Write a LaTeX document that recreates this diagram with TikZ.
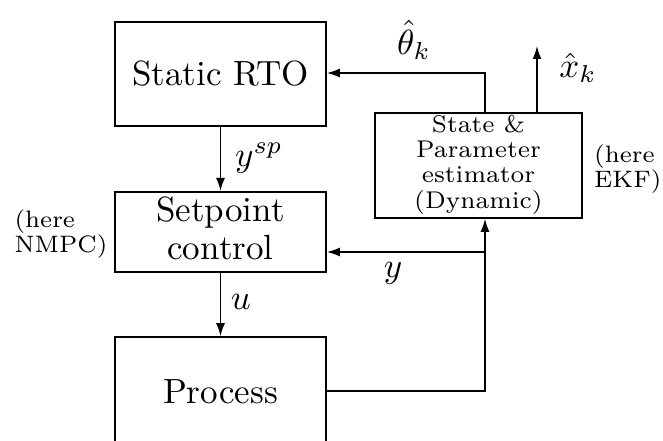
\documentclass[tikz,border=0pt]{standalone}
\usepackage{graphicx}
\usetikzlibrary{arrows.meta}
\newcommand{\Sc}[1]{\scalebox{3.5}{#1}}
\newcommand{\Smallstack}[1]{\scalebox{3.45}{\fontsize{7}{7.2}\selectfont\begin{tabular}{@{}c@{}}#1\end{tabular}}}
\newcommand{\Sidenote}[1]{\scalebox{3.4}{\fontsize{7}{7.2}\selectfont\begin{tabular}{@{}l@{}}#1\end{tabular}}}
\tikzset{
  blk/.style={draw, line width=1.6pt, inner sep=0pt, align=center},
  conn/.style={line width=1.6pt},
  arr/.style={conn, -{Latex[length=13pt,width=9pt]}},
  lbl/.style={inner sep=0pt}
}
\begin{document}
\begin{tikzpicture}[x=1pt,y=-1pt]
\clip (0,0) rectangle (663,441);
\fill[white] (0,0) rectangle (663,441);
% blocks
\node[blk, minimum width=211pt, minimum height=104pt] (rto) at (220.5,74) {\Sc{Static RTO}};
\node[blk, minimum width=211pt, minimum height=80pt] (sp) at (220.5,232) {\Sc{\begin{tabular}{@{}c@{}}Setpoint\\[-1pt]control\end{tabular}}};
\node[blk, minimum width=211pt, minimum height=110pt] (proc) at (220.5,392) {\Sc{Process}};
\node[blk, minimum width=207pt, minimum height=105pt] (est) at (478.5,165.5) {\Smallstack{State \&\\Parameter\\estimator\\(Dynamic)}};
% side notes
\node[lbl] (nmpc) at (61,235) {\Sidenote{(here\\NMPC)}};
\node[lbl, anchor=west] (ekf) at (594,170) {\Sidenote{(here\\EKF)}};
% connector helper points
\coordinate (top) at (485,73);
\coordinate (xk) at (537,46);
\coordinate (j) at (485,252);
\coordinate (pr) at (485,391);
% connectors
\draw[arr] (est.north -| top) -- (top) -- (rto.east |- top);
\draw[arr] (est.north -| xk) -- (xk);
\draw[arr] (rto.south) -- (sp.north);
\draw[arr] (sp.south) -- (proc.north);
\draw[arr] (proc.east |- pr) -- (pr) -- (est.south -| pr);
\draw[arr] (j) -- (sp.east |- j);
% labels
\node[lbl] (lth) at (414,40) {\Sc{$\hat\theta_k$}};
\node[lbl] (lxk) at (578,68) {\Sc{$\hat x_k$}};
\node[lbl] (lysp) at (259,158) {\Sc{$y^{sp}$}};
\node[lbl] (lu) at (241,302) {\Sc{$u$}};
\node[lbl] (ly) at (393,273) {\Sc{$y$}};
\end{tikzpicture}
\end{document}
